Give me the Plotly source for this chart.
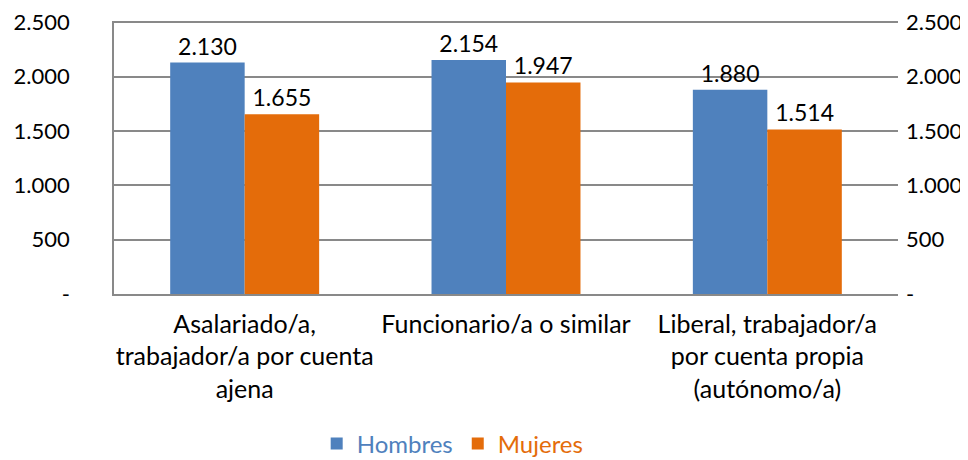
import plotly.graph_objects as go

categorias = ["Asalariado/a,<br>trabajador/a por cuenta<br>ajena",
              "Funcionario/a o similar",
              "Liberal, trabajador/a<br>por cuenta propia<br>(autónomo/a)"]
hombres = [2130, 2154, 1880]
mujeres = [1655, 1947, 1514]
tick_vals = [0, 500, 1000, 1500, 2000, 2500]
tick_text = ["-", "500", "1.000", "1.500", "2.000", "2.500"]

AZUL = "#4F81BD"
NARANJA = "#E46C0A"
FUENTE = "Lato"
T = 25   # textos de categorias
L = 24   # leyenda
N = 23   # numeros de las barras
E = 22   # numeros de los ejes

fig = go.Figure()
fig.add_trace(go.Bar(name="<span style='color:%s'>Hombres</span>" % AZUL, x=categorias, y=hombres,
                     marker_color=AZUL, marker_line_width=0,
                     text=hombres, texttemplate="%{y:,.0f}", textposition="outside",
                     textfont=dict(size=N, color="#000000"), cliponaxis=False))
fig.add_trace(go.Bar(name="<span style='color:%s'>Mujeres</span>" % NARANJA, x=categorias, y=mujeres,
                     marker_color=NARANJA, marker_line_width=0,
                     text=mujeres, texttemplate="%{y:,.0f}", textposition="outside",
                     textfont=dict(size=N, color="#000000"), cliponaxis=False))
# traza vacia para que se dibuje el eje derecho
fig.add_trace(go.Bar(x=categorias, y=[None, None, None], yaxis="y2", showlegend=False,
                     hoverinfo="skip"))

# la pagina tiene 8px de margen en el body, por eso 960x452
# rango un poco mayor que 2500 para que se vea la linea de 2.500
fig.update_layout(
    width=960, height=452,
    margin=dict(l=106, r=70, t=13, b=166, autoexpand=False),
    paper_bgcolor="white", plot_bgcolor="white",
    font=dict(family=FUENTE, size=T, color="#000000"),
    separators=",.",
    barmode="group", bargap=0.43, bargroupgap=0,
    showlegend=True,
    legend=dict(orientation="h", x=0.432, xref="paper", xanchor="center",
                y=-0.549, yanchor="middle", font=dict(size=L),
                itemwidth=30, traceorder="normal"),
    xaxis=dict(showline=True, linecolor="#898989", linewidth=1.5, ticks="",
               tickfont=dict(size=T), automargin=False, ticklabelstandoff=7),
    yaxis=dict(range=[0, 2512], tickvals=tick_vals, ticktext=tick_text,
               tickfont=dict(size=E), ticklabeloverflow="allow",
               showgrid=True, gridcolor="#898989", gridwidth=1.5,
               showline=True, linecolor="#898989", linewidth=1.5,
               zeroline=False, ticks="", ticklabelstandoff=38, automargin=False),
    yaxis2=dict(range=[0, 2512], tickvals=tick_vals, ticktext=tick_text,
                tickfont=dict(size=E), ticklabeloverflow="allow",
                overlaying="y", side="right", showgrid=False, showline=False,
                zeroline=False, ticks="", ticklabelstandoff=7, automargin=False),
)

fig.write_html("out.html")
